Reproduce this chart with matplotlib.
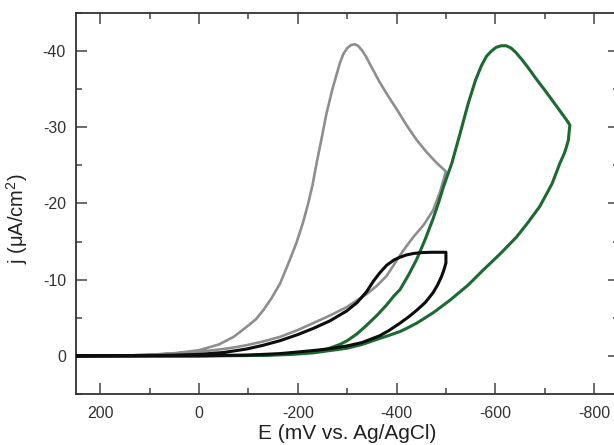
import matplotlib
matplotlib.use("Agg")
import matplotlib.pyplot as plt
from matplotlib.ticker import MultipleLocator, FixedLocator

plt.rcParams['font.family'] = ['Liberation Sans', 'DejaVu Sans']
plt.rcParams['axes.unicode_minus'] = False
plt.rcParams['mathtext.fontset'] = 'custom'
plt.rcParams['mathtext.rm'] = 'Liberation Sans'
plt.rcParams['mathtext.it'] = 'Liberation Sans'

# ---- data (E in mV vs Ag/AgCl, j in uA/cm^2) ----
gray_E = [250, 150, 100, 50, 0, -40, -70, -96, -115, -130, -147, -164, -180, -197, -210,
          -221, -230, -238, -248, -258, -270, -285, -292, -300, -308, -315, -322, -330,
          -338, -346, -356, -366, -380, -400, -420, -440, -460, -480, -500,
          -500, -488, -474, -455, -434, -420, -407, -393, -380, -360, -339, -320, -299,
          -265, -231, -200, -164, -130, -96, -60, -29, 0, 50, 100, 150, 250]
gray_j = [0, -0.05, -0.15, -0.35, -0.75, -1.5, -2.5, -3.8, -4.8, -6.0, -7.6, -9.5, -12.0,
          -14.8, -17.4, -20.0, -22.5, -25.3, -28.5, -31.8, -35.0, -38.4, -39.6, -40.4,
          -40.8, -40.9, -40.7, -40.1, -39.3, -38.3, -37.1, -35.9, -34.4, -32.4, -30.3,
          -28.4, -26.8, -25.4, -24.2,
          -24.2, -21.5, -19.1, -17.2, -15.6, -14.4, -13.2, -11.8, -10.5, -9.2, -8.1, -7.3,
          -6.4, -5.3, -4.3, -3.4, -2.5, -1.9, -1.4, -1.0, -0.75, -0.55, -0.3, -0.15, -0.05, 0]

black_E = [250, 100, 50, 0, -50, -96, -130, -164, -200, -231, -265, -299, -320, -339, -353,
           -366, -380, -395, -407, -420, -435, -450, -470, -500,
           -500, -496, -491, -483, -474, -458, -441, -425, -407, -385, -366, -330, -299,
           -265, -231, -164, -96, 0, 250]
black_j = [0, -0.05, -0.1, -0.2, -0.45, -0.9, -1.4, -2.0, -2.8, -3.6, -4.6, -5.9, -7.0, -8.4,
           -9.8, -10.9, -11.9, -12.6, -12.95, -13.25, -13.45, -13.55, -13.6, -13.6,
           -12.2, -11.3, -10.4, -9.3, -8.3, -7.0, -6.0, -5.15, -4.3, -3.35, -2.65, -1.75,
           -1.3, -0.95, -0.7, -0.3, -0.1, -0.03, 0]

green_E = [250, 0, -100, -160, -230, -260, -285, -300, -320, -339, -360, -380, -395, -407,
           -425, -441, -458, -474, -485, -495, -512, -530, -545, -560, -572, -582, -592,
           -602, -612, -622, -632, -642, -655, -668, -680, -700, -717, -735, -745, -751,
           -748, -744, -740, -731, -715, -690, -665, -643, -610, -576, -545, -508, -475,
           -441, -420, -407, -385, -366, -330, -299, -265, -231, -190, -150, -100, 0, 250]
green_j = [0, -0.02, -0.08, -0.2, -0.5, -0.9, -1.5, -2.0, -2.9, -4.0, -5.3, -6.7, -7.9,
           -8.7, -10.7, -12.7, -15.3, -18.0, -20.1, -22.2, -25.3, -29.5, -33.1, -36.2,
           -38.1, -39.3, -40.0, -40.5, -40.7, -40.7, -40.4, -39.8, -38.8, -37.7, -36.6,
           -34.9, -33.4, -31.8, -30.9, -30.3,
           -28.3, -27.4, -26.6, -25.3, -22.6, -19.6, -17.4, -15.6, -13.4, -11.3, -9.3, -7.3,
           -5.7, -4.3, -3.6, -3.2, -2.7, -2.3, -1.5, -1.0, -0.7, -0.4, -0.2, -0.1, -0.04, 0, 0]

x_ticks = [200, 0, -200, -400, -600, -800]
y_ticks = [0, -10, -20, -30, -40]

# ---- figure ----
W, H = 614, 445
fig = plt.figure(figsize=(W / 100, H / 100), dpi=100)
fig.patch.set_facecolor('white')
l, r, t, b = 75.7, 618.7, 13.0, 394.0
ax = fig.add_axes([l / W, 1 - b / H, (r - l) / W, (b - t) / H])

ax.plot(gray_E, gray_j, color='#8e8e8e', lw=1.9, solid_joinstyle='round', zorder=2)
ax.plot(green_E, green_j, color='#1b6a30', lw=2.2, solid_joinstyle='round', zorder=3)
ax.plot(black_E, black_j, color='#0d0d0d', lw=2.2, solid_joinstyle='round', zorder=4)

ax.set_xlim(250, -850)
ax.set_ylim(5, -45)

ax.xaxis.set_major_locator(FixedLocator(x_ticks))
ax.xaxis.set_minor_locator(MultipleLocator(100))
ax.yaxis.set_major_locator(FixedLocator(y_ticks))
ax.yaxis.set_minor_locator(MultipleLocator(5))
ax.set_xticklabels([str(v) for v in x_ticks])
ax.set_yticklabels([str(v) for v in y_ticks])

spine_c = '#333333'
for s in ax.spines.values():
    s.set_color(spine_c)
    s.set_linewidth(1.3)

ax.tick_params(which='both', direction='in', top=True, right=True, color='#444444',
               width=1.1)
ax.tick_params(which='major', length=8, labelsize=11.5, labelcolor='#333333')
ax.tick_params(which='minor', length=4.5)
ax.tick_params(axis='x', which='major', pad=9)
ax.tick_params(axis='y', which='major', pad=7)

ax.set_xlabel('E (mV vs. Ag/AgCl)', fontsize=15, color='#222222')
ax.set_ylabel(r'j ($\mathregular{\mu}$A/cm$^{2}$)', fontsize=14.5, color='#222222')
ax.xaxis.set_label_coords(0.5, -0.08)
ax.yaxis.set_label_coords(-0.085, 0.46)

fig.savefig('out.png', dpi=100, facecolor='white')
